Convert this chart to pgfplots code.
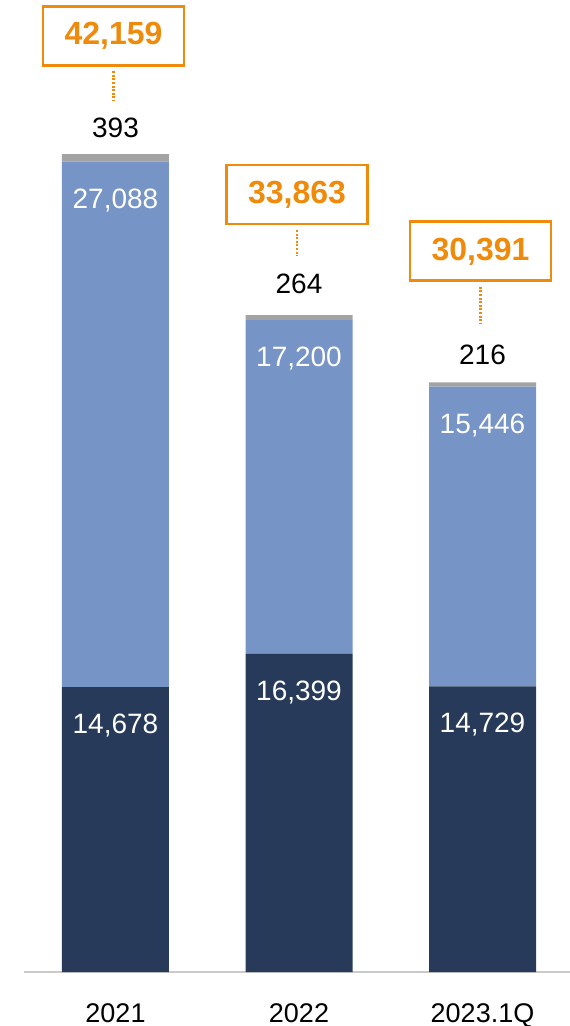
\documentclass[border=0pt]{standalone}
\usepackage{pgfplots}
\usepackage{pgfplotstable}
\pgfplotsset{compat=1.18}
\usepackage{fontspec}
\setmainfont{Liberation Sans}
\definecolor{cdark}{HTML}{283A5A}
\definecolor{cblue}{HTML}{7694C6}
\definecolor{cgray}{HTML}{A3A3A3}
\definecolor{corange}{HTML}{EF8A0A}
\definecolor{caxis}{HTML}{CACACA}

\pgfplotstableread{
x y lab
0 14678 14,678
1 16399 16,399
2 14729 14,729
}\dark
\pgfplotstableread{
x y lab
0 27088 27,088
1 17200 17,200
2 15446 15,446
}\light
\pgfplotstableread{
x y lab off
0 393 393 26
1 264 264 31
2 216 216 28
}\grey
\pgfplotstableread{
x y lab boff dlen
0 42159 42,159 118.3 33.5
1 33863 33,863 120.5 31
2 30391 30,391 131 41
}\total

\begin{document}
\begin{tikzpicture}
\pgfplotsset{common/.style={
  scale only axis,
  width=546pt, height=972pt,
  xmin=-0.4986, xmax=2.4768,
  ymin=0, ymax=50103,
  clip=false,
  point meta=explicit symbolic}}
\begin{axis}[
  common,
  name=ax,
  ybar stacked,
  bar width=107pt,
  axis x line=bottom,
  axis y line=none,
  x axis line style={draw=caxis, line width=2pt, -},
  xtick={0,1,2},
  xticklabels={2021,2022,2023.1Q},
  major tick length=0pt,
  xticklabel style={anchor=base, yshift=-50pt, font=\fontsize{27}{30}\selectfont, text=black},
]
\addplot[fill=cdark, draw=none,
  visualization depends on={\thisrow{y}*0.0097015-38.5 \as \sh},
  nodes near coords,
  nodes near coords style={anchor=center, yshift={\sh}, text=white, font=\fontsize{28}{30}\selectfont}]
  table[x=x, y=y, meta=lab] {\dark};
\addplot[fill=cblue, draw=none,
  visualization depends on={\thisrow{y}*0.0097015-38.5 \as \sh},
  nodes near coords,
  nodes near coords style={anchor=center, yshift={\sh}, text=white, font=\fontsize{28}{30}\selectfont}]
  table[x=x, y=y, meta=lab] {\light};
\addplot[fill=cgray, draw=none,
  visualization depends on={\thisrow{y}*0.0097015+\thisrow{off} \as \sh},
  nodes near coords,
  nodes near coords style={anchor=center, yshift={\sh}, text=black, font=\fontsize{28}{30}\selectfont}]
  table[x=x, y=y, meta=lab] {\grey};
\end{axis}
\begin{axis}[
  common,
  at={(ax.south west)}, anchor=south west,
  hide axis,
]
\addplot[draw=none, mark=none,
  visualization depends on={\thisrow{boff} \as \boff},
  visualization depends on={\thisrow{dlen} \as \dlen},
  nodes near coords={\textbf{\pgfplotspointmeta}},
  nodes near coords style={anchor=center, yshift={\boff}, xshift=-2pt, text=corange,
    draw=corange, line width=2.8pt, minimum width=141pt, minimum height=59pt,
    inner sep=0pt, font=\fontsize{32}{34}\selectfont,
    append after command={(\tikzlastnode.south) edge[draw=corange, line width=2.4pt,
      dash pattern=on 2pt off 1.6pt, shorten <=4.5pt] ++(0pt,{-\dlen*1pt})}}]
  table[x=x, y=y, meta=lab] {\total};
\end{axis}
\pgfresetboundingbox
\useasboundingbox ([xshift=-24pt,yshift=-54pt]ax.south west) rectangle (ax.north east);
\end{tikzpicture}
\end{document}
